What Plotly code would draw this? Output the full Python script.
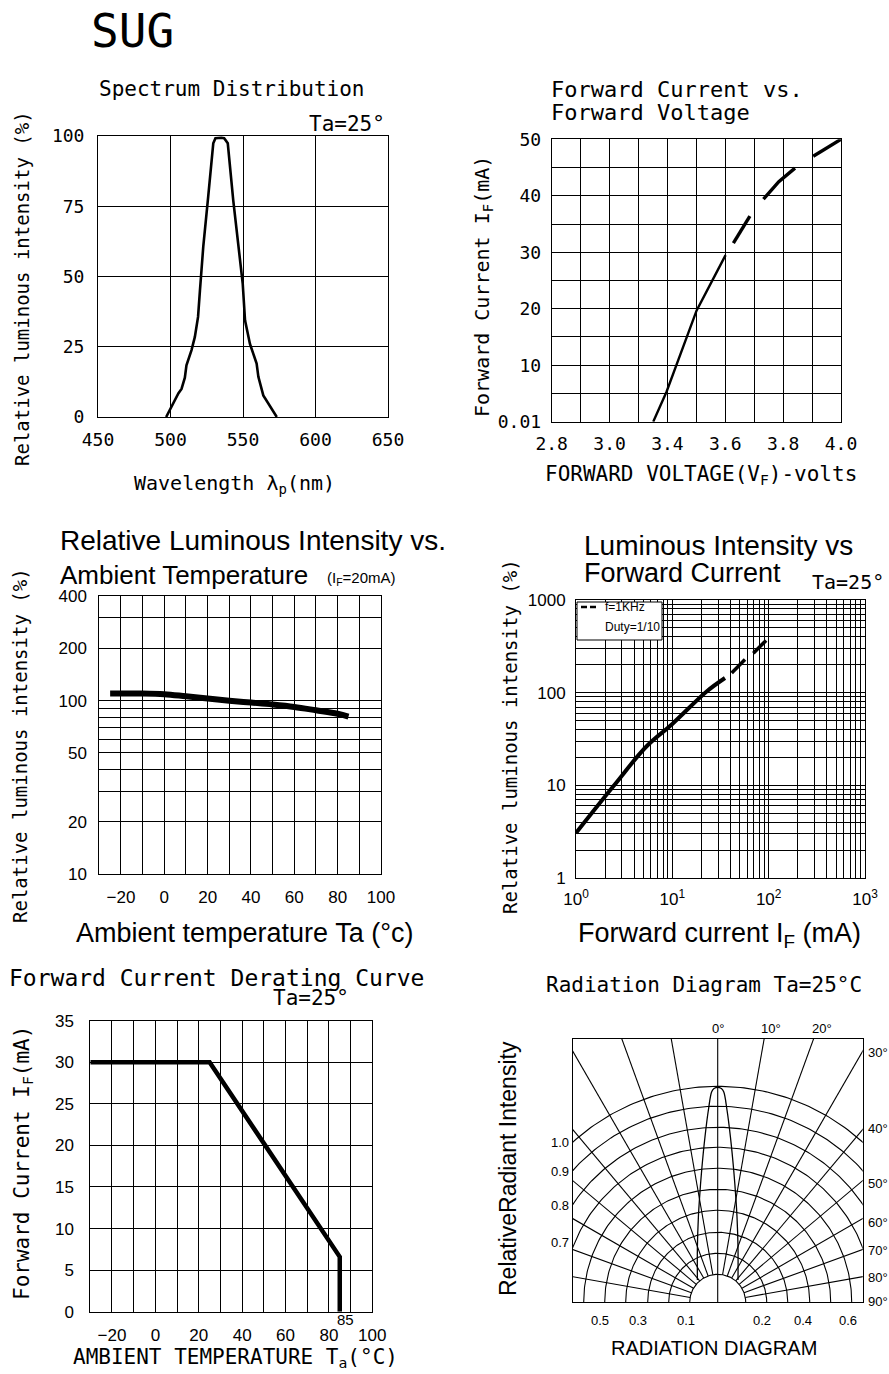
import numpy as np
import plotly.graph_objects as go

W, H = 889, 1374
def X(px): return px / W
def Y(py): return 1 - py / H

MONO = "DejaVu Sans Mono"
SANS = "Liberation Sans"

# ---------------- data ----------------
# Spectrum distribution
spec_wl = [497, 498, 500, 501, 503, 505.5, 507.6, 509.9, 511, 514.5, 516.8, 519, 520.3, 522.6,
           526, 529.5, 531, 533, 535, 537, 539.5, 543.3, 546.8, 549.8, 551.4, 554.8,
           559.4, 560.6, 564, 568.7, 573.3]
spec_int = [0, 1, 2.5, 3.5, 6, 8.5, 10, 14, 18.4, 23.8, 28.5, 35.6, 45, 60.6,
            78.4, 97.4, 99.2, 99.4, 99.4, 99.2, 97.4, 77, 60.6, 47.5, 34.4, 26,
            19, 14.3, 7.7, 3.6, 0]

# Forward current vs forward voltage (x in grid steps of the drawn scale)
vf_ticktext = ['2.8', '3.0', '3.4', '3.6', '3.8', '4.0']
vf_tickpos = [0, 2, 4, 6, 8, 10]
vf_solid = [3.51, 3.97, 5.01, 6.01]
if_solid = [0.0, 5.3, 19.7, 29.5]
vf_dash = [6.28, 6.85, None, 7.32, 7.85, 8.41, None, 9.04, 9.5, 10.0]
if_dash = [31.6, 36.4, None, 39.4, 42.5, 44.9, None, 47.0, 48.4, 50.0]
if_ticktext = ['0.01', '10', '20', '30', '40', '50']

# Relative luminous intensity vs ambient temperature
temp_ri = [-25, -10, 0, 10, 20, 30, 40, 50, 60, 70, 80, 85]
ri_vals = [110, 110, 109, 106, 103, 100, 97.5, 95, 92, 88, 84, 81]
ri_labels = [10, 20, 50, 100, 200, 400]
ri_minor = [30, 40, 60, 70, 80, 90, 300]

# Luminous intensity vs forward current
li_decades = [1, 10, 100, 1000]
li_minor = [m * 10 ** k for k in range(3) for m in range(2, 10)]
if_li = [1, 2.44, 5.41, 10, 22.7, 35.2]
li_vals = [3.06, 9.76, 26.4, 46, 103, 144]
if_li_dash = [41.3, 56.8, None, 69.3, 94]
li_dash = [163, 228, None, 267, 366]

# Derating curve
derate_t = [-30, 25, 85, 85]
derate_i = [30, 30, 6.6, 0]

# Radiation diagram (diagram units = pixels of the drawing)
rad_radii = [28, 49, 70, 92, 113, 134, 155, 175, 196, 216]
rad_spokes = [-80, -70, -60, -50, -40, -30, -20, -10, 10, 20, 30, 40, 50, 60, 70, 80]
lobe_dx = [0, 3.7, 6, 9.3, 12.7, 16, 18.3, 19.3, 20.3, 20.3]
lobe_h = [215, 213.7, 210.6, 192.3, 165.6, 132.3, 102.3, 85.6, 55.6, 22.3]

fig = go.Figure()

# ---------------- axes ----------------
def ax(**kw):
    d = dict(showline=True, mirror=True, linecolor='black', linewidth=1,
             showgrid=True, gridcolor='black', gridwidth=1, zeroline=False,
             ticks='', fixedrange=True, automargin=False)
    d.update(kw)
    return d

def minor_grid(**kw):
    d = dict(showgrid=True, gridcolor='black', gridwidth=1, ticks='')
    d.update(kw)
    return d

tf_mono = dict(family=MONO, size=18, color='black')
tf_sans = dict(family=SANS, size=17, color='black')

layout = dict(
    template='none',
    width=W, height=H, margin=dict(l=0, r=0, t=0, b=0, pad=0),
    paper_bgcolor='white', plot_bgcolor='white', showlegend=False,
    xaxis=ax(domain=[X(98), X(388)], range=[450, 650], dtick=50, tickfont=tf_mono,
             ticklabelstandoff=6, anchor='y'),
    yaxis=ax(domain=[Y(417), Y(136)], range=[0, 100], dtick=25, tickfont=tf_mono,
             ticklabelstandoff=9, anchor='x'),
    xaxis2=ax(domain=[X(551.7), X(841)], range=[0, 10], tickvals=vf_tickpos, ticktext=vf_ticktext,
              minor=minor_grid(dtick=1, tick0=0),
              tickfont=tf_mono, ticklabelstandoff=6, anchor='y2'),
    yaxis2=ax(domain=[Y(421.7), Y(139.3)], range=[0, 50], tickvals=[0, 10, 20, 30, 40, 50],
              ticktext=if_ticktext, minor=minor_grid(dtick=5, tick0=0),
              tickfont=tf_mono, ticklabelstandoff=6, anchor='x2'),
    xaxis3=ax(domain=[X(99.3), X(381)], range=[-30, 100], tickvals=[-20, 0, 20, 40, 60, 80, 100],
              minor=minor_grid(dtick=10, tick0=0),
              tickfont=tf_sans, ticklabelstandoff=8, anchor='y3'),
    yaxis3=ax(domain=[Y(874), Y(596.3)], type='log', range=[1, np.log10(400)],
              tickvals=ri_labels, minor=minor_grid(tickmode='array', tickvals=ri_minor),
              tickfont=tf_sans, ticklabelstandoff=8, anchor='x3'),
    xaxis4=ax(domain=[X(576), X(865)], type='log', range=[0, 3],
              tickvals=li_decades, ticktext=['10<sup>0</sup>', '10<sup>1</sup>', '10<sup>2</sup>', '10<sup>3</sup>'],
              minor=minor_grid(tickmode='array', tickvals=li_minor),
              tickfont=tf_sans, ticklabelstandoff=6, anchor='y4'),
    yaxis4=ax(domain=[Y(878), Y(600)], type='log', range=[0, 3],
              tickvals=li_decades, ticktext=['1', '10', '100', '1000'],
              minor=minor_grid(tickmode='array', tickvals=li_minor),
              tickfont=tf_sans, ticklabelstandoff=6, anchor='x4'),
    xaxis5=ax(domain=[X(90.3), X(372.3)], range=[-30, 100], tickvals=[-20, 0, 20, 40, 60, 80, 100],
              minor=minor_grid(dtick=10, tick0=0),
              tickfont=tf_sans, ticklabelstandoff=8, anchor='y5'),
    yaxis5=ax(domain=[Y(1311.7), Y(1020.7)], range=[0, 35], dtick=5, tickfont=tf_sans,
              ticklabelstandoff=12, anchor='x5'),
    xaxis6=ax(domain=[X(573), X(862.7)], range=[-144.7, 145], showgrid=False,
              showticklabels=False, anchor='y6'),
    yaxis6=ax(domain=[Y(1302.3), Y(1038.7)], range=[0, 263.6], showgrid=False,
              showticklabels=False, anchor='x6'),
)
fig.update_layout(**layout)

# ---------------- traces ----------------
fig.add_trace(go.Scatter(x=spec_wl, y=spec_int, mode='lines', line=dict(color='black', width=2.6),
                         xaxis='x', yaxis='y', hoverinfo='skip'))

fig.add_trace(go.Scatter(x=vf_solid, y=if_solid, mode='lines', line=dict(color='black', width=2.4),
                         xaxis='x2', yaxis='y2', hoverinfo='skip'))
fig.add_trace(go.Scatter(x=vf_dash, y=if_dash, mode='lines', line=dict(color='black', width=3.4),
                         xaxis='x2', yaxis='y2', hoverinfo='skip', connectgaps=False))

fig.add_trace(go.Scatter(x=temp_ri, y=ri_vals, mode='lines', line=dict(color='black', width=6, shape='spline'),
                         xaxis='x3', yaxis='y3', hoverinfo='skip'))

fig.add_trace(go.Scatter(x=if_li, y=li_vals, mode='lines', line=dict(color='black', width=4, shape='spline'),
                         xaxis='x4', yaxis='y4', hoverinfo='skip'))
fig.add_trace(go.Scatter(x=if_li_dash, y=li_dash, mode='lines', line=dict(color='black', width=3.5),
                         xaxis='x4', yaxis='y4', hoverinfo='skip', connectgaps=False))

fig.add_trace(go.Scatter(x=derate_t, y=derate_i, mode='lines', line=dict(color='black', width=4.5),
                         xaxis='x5', yaxis='y5', hoverinfo='skip'))

# radiation diagram grid: arcs
th = np.radians(np.linspace(-90, 90, 181))
ax_x, ax_y = [], []
for r in rad_radii:
    ax_x += list(r * np.sin(th)) + [None]
    ax_y += list(r * np.cos(th)) + [None]
fig.add_trace(go.Scatter(x=ax_x, y=ax_y, mode='lines', line=dict(color='black', width=1.1),
                         xaxis='x6', yaxis='y6', hoverinfo='skip'))
# spokes
sp_x, sp_y = [0, 0, None], [0, 400, None]
for a in rad_spokes:
    t = np.radians(a)
    sp_x += [rad_radii[0] * np.sin(t), 500 * np.sin(t), None]
    sp_y += [rad_radii[0] * np.cos(t), 500 * np.cos(t), None]
fig.add_trace(go.Scatter(x=sp_x, y=sp_y, mode='lines', line=dict(color='black', width=1.1),
                         xaxis='x6', yaxis='y6', hoverinfo='skip'))
# lobe
lx = [-v for v in lobe_dx[::-1]] + lobe_dx[1:]
ly = lobe_h[::-1] + lobe_h[1:]
fig.add_trace(go.Scatter(x=lx, y=ly, mode='lines', line=dict(color='black', width=1.3, shape='spline'),
                         xaxis='x6', yaxis='y6', hoverinfo='skip'))

# ---------------- text ----------------
ann = []
def T(text, x, y, size, family=MONO, xa='center', ya='middle', angle=0):
    ann.append(dict(text=text, x=X(x), y=Y(y), xref='paper', yref='paper', showarrow=False,
                    xanchor=xa, yanchor=ya, textangle=angle,
                    font=dict(family=family, size=size, color='black')))

T('SUG', 89, 31, 46, xa='left')
# panel 1
T('Spectrum Distribution', 232, 89, 21)
T('Ta=25°', 347, 124, 21)
T('Relative luminous intensity (%)', 22, 289, 19, angle=-90)
T('Wavelength λ<sub>p</sub>(nm)', 234, 484, 20)
# panel 2
T('Forward Current vs.', 549, 89, 22, xa='left')
T('Forward Voltage', 549, 113, 22, xa='left')
T('Forward Current I<sub>F</sub>(mA)', 483, 287, 20, angle=-90)
T('FORWARD VOLTAGE(V<sub>F</sub>)-volts', 701, 475, 21)
# panel 3
T('Relative Luminous Intensity vs.', 58, 540, 28, family=SANS, xa='left')
T('Ambient Temperature', 58, 575, 26, family=SANS, xa='left')
T('(I<sub>F</sub>=20mA)', 325, 578, 15, family=SANS, xa='left')
T('Relative luminous intensity (%)', 20, 746, 19, angle=-90)
T('Ambient temperature Ta (°c)', 244, 933, 27, family=SANS)
# panel 4
T('Luminous Intensity vs', 582, 545, 28, family=SANS, xa='left')
T('Forward Current', 582, 573, 27, family=SANS, xa='left')
T('Ta=25°', 810, 582, 20, xa='left')
T('Relative luminous intensity (%)', 510, 737, 19, angle=-90)
T('Forward current I<sub>F</sub> (mA)', 719, 935, 27, family=SANS)
T('f=1KHz', 603, 607, 12, family=SANS, xa='left')
T('Duty=1/10', 603, 627, 12, family=SANS, xa='left')
# panel 5
T('Forward Current Derating Curve', 7, 978, 23, xa='left')
T('Ta=25°', 311, 998, 21)
T('Forward Current I<sub>F</sub>(mA)', 23, 1163, 21, angle=-90)
T('AMBIENT TEMPERATURE T<sub>a</sub>(°C)', 236, 1358, 21)
T('85', 345, 1319, 15, family=SANS)
# panel 6
T('Radiation Diagram Ta=25°C', 704, 985, 21)
T('RelativeRadiant Intensity', 508, 1169, 23, family=SANS, angle=-90)
T('RADIATION DIAGRAM', 714, 1348, 20, family=SANS)
for txt, x, y in [('0°', 718, 1028), ('10°', 771, 1028), ('20°', 822, 1028)]:
    T(txt, x, y, 13, family=SANS)
for txt, y in [('30°', 1052), ('40°', 1128), ('50°', 1183), ('60°', 1222), ('70°', 1250),
               ('80°', 1277), ('90°', 1301)]:
    T(txt, 866, y, 13, family=SANS, xa='left')
for txt, y in [('1.0', 1142), ('0.9', 1171), ('0.8', 1205), ('0.7', 1242)]:
    T(txt, 560, y, 13, family=SANS)
for txt, x in [('0.5', 600), ('0.3', 638), ('0.1', 686), ('0.2', 762), ('0.4', 803), ('0.6', 848)]:
    T(txt, x, 1320, 13, family=SANS)

fig.update_layout(annotations=ann)

# legend box in panel 4
fig.add_shape(type='rect', xref='paper', yref='paper', x0=X(577), x1=X(662), y0=Y(640), y1=Y(602),
              line=dict(color='black', width=1), fillcolor='white', layer='above')
fig.add_shape(type='line', xref='paper', yref='paper', x0=X(581), x1=X(599), y0=Y(607), y1=Y(607),
              line=dict(color='black', width=2.5, dash='6px,3px'), layer='above')

fig.write_html("out.html", config={'displayModeBar': False, 'staticPlot': True},
               post_script="document.body.style.margin='0';document.body.style.overflow='hidden';")
